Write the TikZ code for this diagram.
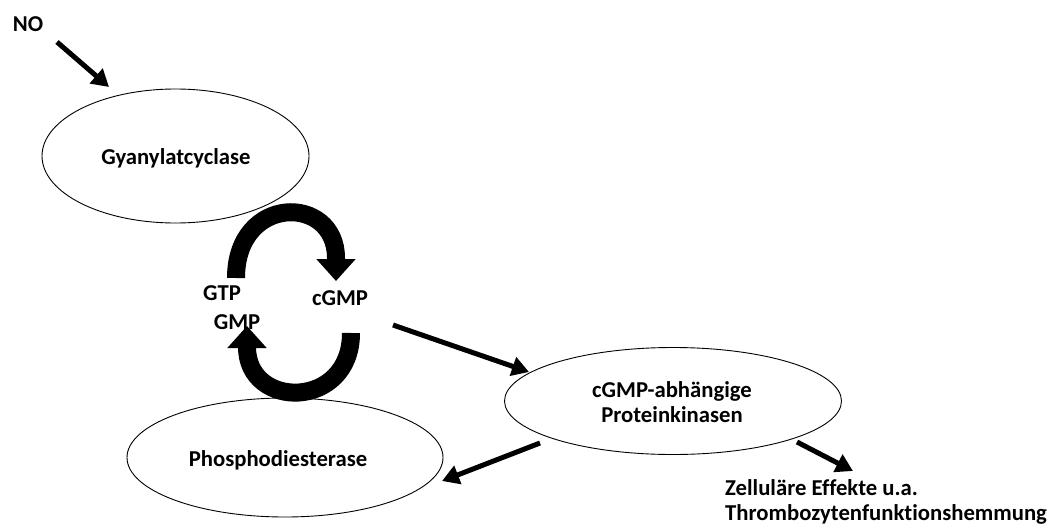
\documentclass[tikz,border=0pt]{standalone}
\usepackage{fontspec}
\setmainfont[Ligatures=NoCommon]{Carlito}
\usetikzlibrary{arrows.meta,shapes.geometric}
\begin{document}
\begin{tikzpicture}[x=1pt,y=-1pt,
  lbl/.style={font=\bfseries\fontsize{22.7}{25}\selectfont, inner sep=0pt},
  oval/.style={draw, ellipse, line width=0.9pt, inner sep=0pt},
  flow/.style={line width=5pt, -{Triangle[length=17pt,width=19pt]}},
  cyc/.style={line width=18pt, -{Triangle[length=22pt,width=38pt]}}]
\useasboundingbox (0,0) rectangle (1057,525);
% nodes
\node[lbl] (no) at (28,24) {NO};
\node[oval, minimum width=267pt, minimum height=134pt] (gc) at (175.5,156) {};
\node[lbl] at (176,158) {Gyanylatcyclase};
\node[oval, minimum width=316pt, minimum height=119pt] (pde) at (285,457.5) {};
\node[lbl] at (278,460) {Phosphodiesterase};
\node[oval, minimum width=337pt, minimum height=107pt] (pk) at (673,401) {};
\node[lbl, align=center] at (672,402) {cGMP-abhängige\\Proteinkinasen};
\node[lbl] (gtp) at (222,293) {GTP};
\node[lbl] (cgmp) at (340,298) {cGMP};
\node[lbl] (gmp) at (237,322) {GMP};
\node[lbl, align=left, anchor=north west] (eff) at (725,479) {Zelluläre Effekte u.a.\\Thrombozytenfunktionshemmung};
% connector ends
\coordinate (noS) at (57,42);
\coordinate (noE) at (109,87);
\coordinate (cgS) at (393,325);
\coordinate (cgE) at (529,372);
\coordinate (pkA) at (540,443);
\coordinate (pdeE) at (442,481);
\coordinate (pkB) at (797,442);
\coordinate (effE) at (853,471);
\draw[flow] (noS) -- (noE);
\draw[flow] (cgS) -- (cgE);
\draw[flow] (pkA) -- (pdeE);
\draw[flow] (pkB) -- (effE);
% cycle arrows
\coordinate (t0) at (236,278);
\coordinate (t1) at (336,258);
\coordinate (t2) at (336,281);
\draw[cyc] (t0) .. controls (236,194) and (336,194) .. (t1) -- (t2);
\coordinate (b0) at (351,333);
\coordinate (b1) at (247,347);
\coordinate (b2) at (247,326);
\draw[cyc] (b0) .. controls (351,410) and (247,410) .. (b1) -- (b2);
\end{tikzpicture}
\end{document}
